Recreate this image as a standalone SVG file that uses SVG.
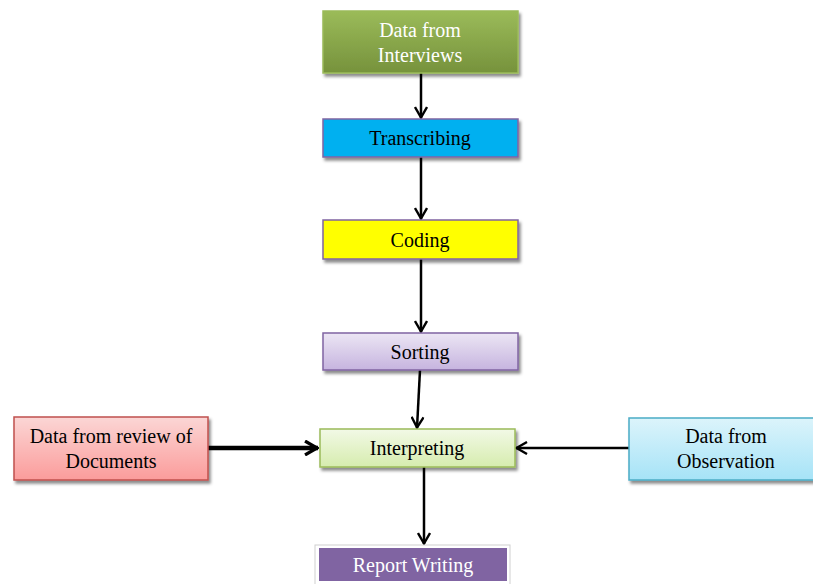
<svg xmlns="http://www.w3.org/2000/svg" width="813" height="584" viewBox="0 0 813 584">
<defs>
<linearGradient id="gGreen" x1="0" y1="0" x2="0" y2="1"><stop offset="0" stop-color="#9bbb59"/><stop offset="1" stop-color="#76923c"/></linearGradient>
<linearGradient id="gLav" x1="0" y1="0" x2="0" y2="1"><stop offset="0" stop-color="#ece6f4"/><stop offset="1" stop-color="#c6b4df"/></linearGradient>
<linearGradient id="gLime" x1="0" y1="0" x2="0" y2="1"><stop offset="0" stop-color="#f2f9e6"/><stop offset="1" stop-color="#d6ecae"/></linearGradient>
<linearGradient id="gRed" x1="0" y1="0" x2="0" y2="1"><stop offset="0" stop-color="#fbd6d5"/><stop offset="1" stop-color="#fb9c9b"/></linearGradient>
<linearGradient id="gBlue" x1="0" y1="0" x2="0" y2="1"><stop offset="0" stop-color="#dcf4fb"/><stop offset="1" stop-color="#a6e3f7"/></linearGradient>
<filter id="sh" x="-10%" y="-20%" width="125%" height="160%"><feDropShadow dx="2" dy="3" stdDeviation="1.5" flood-color="#000" flood-opacity="0.45"/></filter>
<marker id="ah" viewBox="0 0 14 14" refX="13" refY="7" markerWidth="14" markerHeight="14" markerUnits="userSpaceOnUse" orient="auto"><polyline points="2,1 12.5,7 2,13" fill="none" stroke="#000" stroke-width="2.4"/></marker>
<marker id="ahB" viewBox="0 0 16 16" refX="15" refY="8" markerWidth="16" markerHeight="16" markerUnits="userSpaceOnUse" orient="auto"><polyline points="2,1 14,8 2,15" fill="none" stroke="#000" stroke-width="3.2"/></marker>
</defs>
<style>
text{font-family:"Liberation Serif","Times New Roman",serif;font-size:20px;text-anchor:middle;fill:#000}
.w{fill:#fff}
.box{filter:url(#sh)}
.ln{stroke:#000;stroke-width:2.5;fill:none;marker-end:url(#ah)}
</style>
<g id="connectors">
<line class="ln" x1="421" y1="73" x2="421" y2="118"/>
<line class="ln" x1="421" y1="157" x2="421" y2="219"/>
<line class="ln" x1="421" y1="259" x2="421" y2="332"/>
<line class="ln" x1="420" y1="370" x2="417" y2="428"/>
<line class="ln" x1="424" y1="467" x2="424" y2="544"/>
<line x1="208" y1="448" x2="318" y2="448" stroke="#000" stroke-width="4.5" marker-end="url(#ahB)"/>
<line class="ln" x1="629" y1="448" x2="516" y2="448"/>
</g>
<g id="interviews"><rect class="box" x="323" y="11" width="195" height="62" fill="url(#gGreen)" stroke="#9bbb59" stroke-width="1.5"/><text class="w" x="420" y="37">Data from</text><text class="w" x="420" y="62">Interviews</text></g>
<g id="transcribing"><rect class="box" x="323" y="119" width="195" height="38" fill="#00b0f0" stroke="#8064a2" stroke-width="1.5"/><text x="420" y="145">Transcribing</text></g>
<g id="coding"><rect class="box" x="323" y="220" width="195" height="39" fill="#ffff00" stroke="#8064a2" stroke-width="1.5"/><text x="420" y="247">Coding</text></g>
<g id="sorting"><rect class="box" x="323" y="333" width="195" height="37" fill="url(#gLav)" stroke="#8064a2" stroke-width="1.5"/><text x="420" y="359">Sorting</text></g>
<g id="interpreting"><rect class="box" x="320" y="429" width="195" height="38" fill="url(#gLime)" stroke="#9bbb59" stroke-width="1.5"/><text x="417" y="455">Interpreting</text></g>
<g id="documents"><rect class="box" x="14" y="417" width="194" height="63" fill="url(#gRed)" stroke="#c0504d" stroke-width="1.5"/><text x="111" y="443">Data from review of</text><text x="111" y="468">Documents</text></g>
<g id="observation"><rect class="box" x="629" y="418" width="190" height="62" fill="url(#gBlue)" stroke="#4bacc6" stroke-width="1.5"/><text x="726" y="443">Data from</text><text x="726" y="468">Observation</text></g>
<g id="report"><rect x="315" y="545" width="195" height="44" fill="#fff" stroke="#d0d0d0" stroke-width="1"/><rect x="319" y="548" width="188" height="33" fill="#8064a2"/><text class="w" x="413" y="572">Report Writing</text></g>
</svg>
